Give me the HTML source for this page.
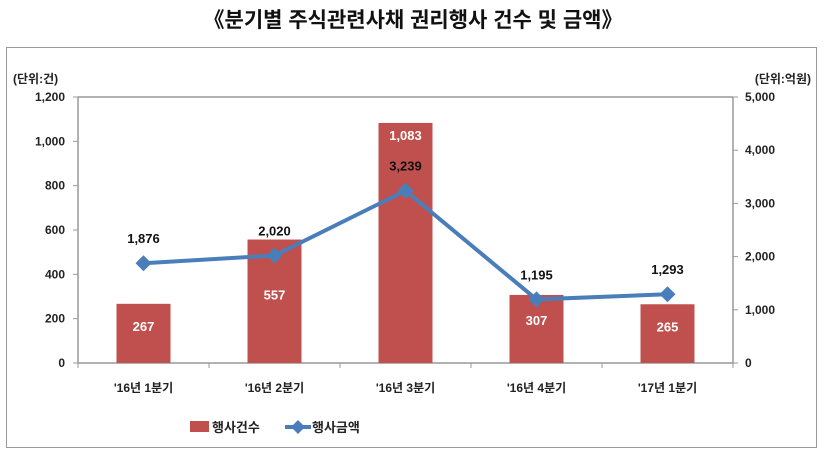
<!DOCTYPE html>
<html><head><meta charset="utf-8">
<style>
body{margin:0;background:#fff;width:826px;height:461px;overflow:hidden;font-family:"Liberation Sans","Noto Sans CJK KR",sans-serif;}
svg text{font-family:"Liberation Sans","Noto Sans CJK KR",sans-serif;}
</style></head>
<body>
<svg id="c" width="826" height="461">
<text x="413" y="27" text-anchor="middle" font-size="21" font-weight="bold" fill="#111">《분기별 주식관련사채 권리행사 건수 및 금액》</text>
<rect x="6.5" y="47.5" width="810" height="400" fill="none" stroke="#333" stroke-dasharray="1,1"/>
<text x="13" y="83" font-size="12" font-weight="bold" fill="#222">(단위:건)</text>
<text x="811" y="83" text-anchor="end" font-size="12" font-weight="bold" fill="#222">(단위:억원)</text>
<g id="g"></g>
</svg>
<script>
const categories=["'16년 1분기","'16년 2분기","'16년 3분기","'16년 4분기","'17년 1분기"];
const counts=[267,557,1083,307,265];
const amounts=[1876,2020,3239,1195,1293];
const leftTicks=[0,200,400,600,800,1000,1200];
const rightTicks=[0,1000,2000,3000,4000,5000];
const barLabelDy=[22,55,12,25,22];
const NS="http://www.w3.org/2000/svg";
const g=document.getElementById('g');
const X0=78,X1=733,Y0=363,Y1=97;
const bw=(X1-X0)/categories.length;
const xc=i=>X0+bw*(i+0.5);
const yl=v=>Y0-v/1200*(Y0-Y1);
const yr=v=>Y0-v/5000*(Y0-Y1);
function el(t,a,txt){const e=document.createElementNS(NS,t);for(const k in a)e.setAttribute(k,a[k]);if(txt!==undefined)e.textContent=txt;g.appendChild(e);return e;}
// axes
let e=el('line',{x1:X0,y1:Y1,x2:X1,y2:Y1,stroke:'#999','stroke-width':1.5});

e=el('line',{x1:X0,y1:Y1,x2:X0,y2:Y0,stroke:'#999','stroke-width':1.5});

e=el('line',{x1:X1,y1:Y1,x2:X1,y2:Y0,stroke:'#999','stroke-width':1.5});

e=el('line',{x1:X0,y1:Y0,x2:X1,y2:Y0,stroke:'#999','stroke-width':1.5});

leftTicks.forEach(v=>{
  el('line',{x1:X0-5,y1:yl(v),x2:X0,y2:yl(v),stroke:'#999'});
  const t=el('text',{x:65,y:yl(v)+4,'text-anchor':'end','font-size':12,'font-weight':'bold',fill:'#222'},v.toLocaleString('en-US'));
  
  
});
rightTicks.forEach(v=>{
  el('line',{x1:X1,y1:yr(v),x2:X1+5,y2:yr(v),stroke:'#999'});
  const t=el('text',{x:745,y:yr(v)+4,'font-size':12,'font-weight':'bold',fill:'#222'},v.toLocaleString('en-US'));
  
  
});
for(let i=0;i<=categories.length;i++)el('line',{x1:X0+bw*i,y1:Y0,x2:X0+bw*i,y2:Y0+5,stroke:'#999'});
categories.forEach((c,i)=>{
  const t=el('text',{x:xc(i),y:392,'text-anchor':'middle','font-size':12,'font-weight':'bold',fill:'#222'},c);
  
  
});
// bars
counts.forEach((v,i)=>{
  const r=el('rect',{x:xc(i)-27,y:yl(v),width:54,height:Y0-yl(v),fill:'#c0504d'});
  
  
  const t=el('text',{x:xc(i),y:yl(v)+barLabelDy[i]+5,'text-anchor':'middle','font-size':13,'font-weight':'bold',fill:'#fff'},v.toLocaleString('en-US'));
  
  
});
// line
const pl=el('polyline',{points:amounts.map((v,i)=>xc(i)+','+yr(v)).join(' '),fill:'none',stroke:'#4a7ebb','stroke-width':4});


amounts.forEach((v,i)=>{
  const x=xc(i),y=yr(v);
  const d=el('polygon',{points:`${x},${y-8} ${x+8},${y} ${x},${y+8} ${x-8},${y}`,fill:'#4a7ebb'});
  
  
  const t=el('text',{x:x,y:y-20,'text-anchor':'middle','font-size':13,'font-weight':'bold',fill:'#111'},v.toLocaleString('en-US'));
  
  
});
// legend
e=el('rect',{x:190,y:421,width:19,height:11,fill:'#c0504d'});

e=el('text',{x:212,y:432,'font-size':13,'font-weight':'bold',fill:'#222'},'행사건수');

e=el('line',{x1:285,y1:427,x2:311,y2:427,stroke:'#4a7ebb','stroke-width':4});

e=el('polygon',{points:'298,420 305,427 298,434 291,427',fill:'#4a7ebb'});

e=el('text',{x:312,y:432,'font-size':13,'font-weight':'bold',fill:'#222'},'행사금액');

</script>
</body></html>
